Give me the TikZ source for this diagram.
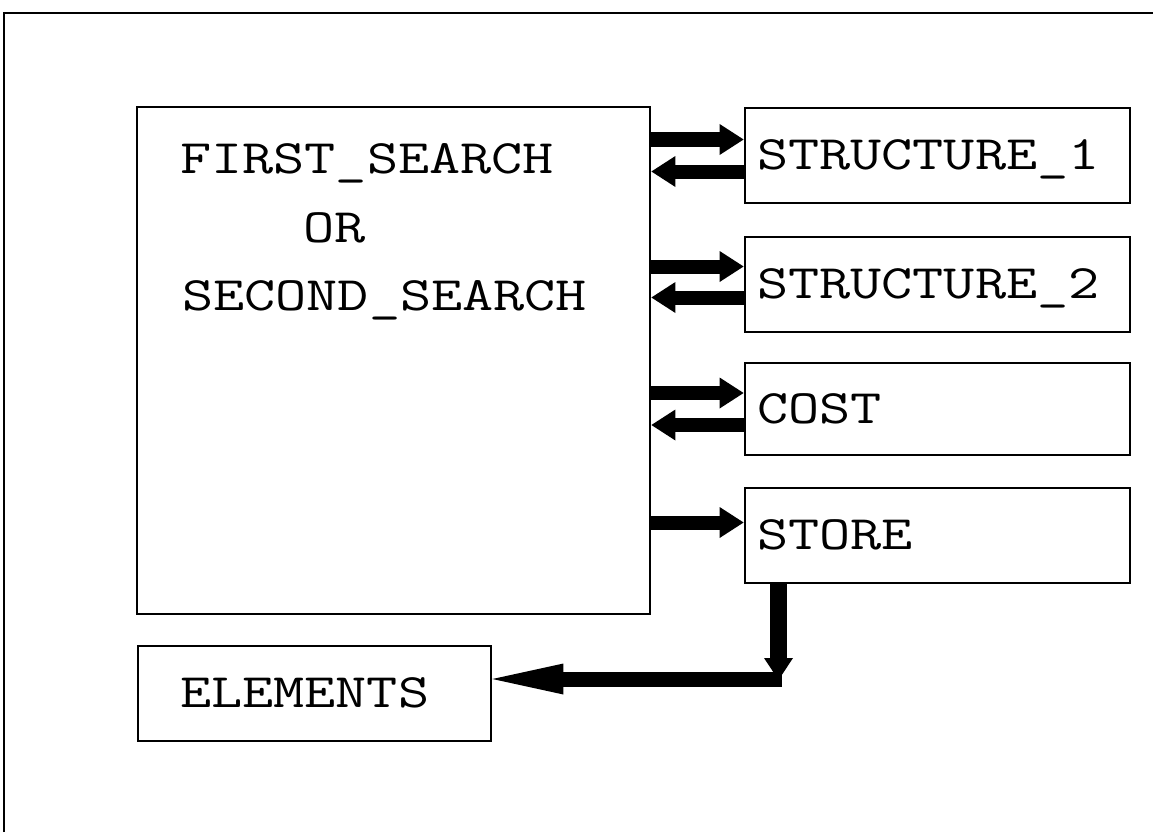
\documentclass[tikz,border=0pt]{standalone}
\usepackage{fontspec}
\usetikzlibrary{arrows.meta}
\newcommand{\mytxt}[1]{\scalebox{1.26}[1]{#1}}
\begin{document}
\begin{tikzpicture}[x=1pt,y=-1pt,
  box/.style={draw=black, line width=2.8pt, rectangle, inner sep=0pt},
  txt/.style={font=\ttfamily\fontsize{48}{56}\selectfont},
  rbox/.style={box, txt, minimum width=385pt, text width=361pt, inner xsep=12pt, align=left,
    text height=28pt, text depth=0pt},
  lbl/.style={txt, inner sep=0pt, anchor=base west},
  fat/.style={line width=14pt, line cap=butt, -{Triangle[length=24pt,width=31pt,line width=0pt]}},
  fatlong/.style={line width=15pt, line cap=butt, -{Triangle[length=71pt,width=31pt,line width=0pt]}},
  fatdown/.style={line width=17pt, line cap=butt, -{Triangle[length=22pt,width=29pt,line width=0pt]}},
  frame/.style={line width=2.8pt}
]
\useasboundingbox (0,0) rectangle (1153,832);
% outer frame (top and left edges only)
\draw[frame] (4,832) -- (4,13) -- (1153,13);

% main box
\node[box, minimum width=513pt, minimum height=507pt] (main) at (393.5,360.5) {};
\node[lbl] (t1) at (180,173) {\mytxt{FIRST\_SEARCH}};
\node[lbl] (t2) at (303,242) {\mytxt{OR}};
\node[lbl] (t3) at (182,310) {\mytxt{SECOND\_SEARCH}};

% right boxes
\node[rbox, minimum height=95pt] (s1) at (937.5,155.5) {\mytxt{STRUCTURE\_1}};
\node[rbox, minimum height=95pt] (s2) at (937.5,284.5) {\mytxt{STRUCTURE\_2}};
\node[rbox, minimum height=92pt] (cost) at (937.5,409) {\mytxt{COST}};
\node[rbox, minimum height=95pt] (store) at (937.5,535.5) {\mytxt{STORE}};

% elements box
\node[box, txt, minimum width=353pt, minimum height=95pt, text width=269pt, inner xsep=42pt, align=left,
  text height=28pt, text depth=0pt] (elements) at (314.5,693.5) {\mytxt{ELEMENTS}};

% arrows main <-> boxes
\draw[fat] ([yshift=16pt]main.east |- s1.west) -- ([yshift=16pt]s1.west);
\draw[fat] ([yshift=-16pt]s1.west) -- ([yshift=-16pt]main.east |- s1.west);
\draw[fat] ([yshift=18pt]main.east |- s2.west) -- ([yshift=18pt]s2.west);
\draw[fat] ([yshift=-13pt]s2.west) -- ([yshift=-13pt]main.east |- s2.west);
\draw[fat] ([yshift=16pt]main.east |- cost.west) -- ([yshift=16pt]cost.west);
\draw[fat] ([yshift=-16pt]cost.west) -- ([yshift=-16pt]main.east |- cost.west);
\draw[fat] ([yshift=13pt]main.east |- store.west) -- ([yshift=13pt]store.west);

% store -> elements
\coordinate (corner) at (778.5,679);
\draw[fatdown] (store.south -| corner) -- ([yshift=-1pt]corner);
\draw[fatlong] ([xshift=3pt]corner) -- (elements.east |- corner);
\end{tikzpicture}
\end{document}
